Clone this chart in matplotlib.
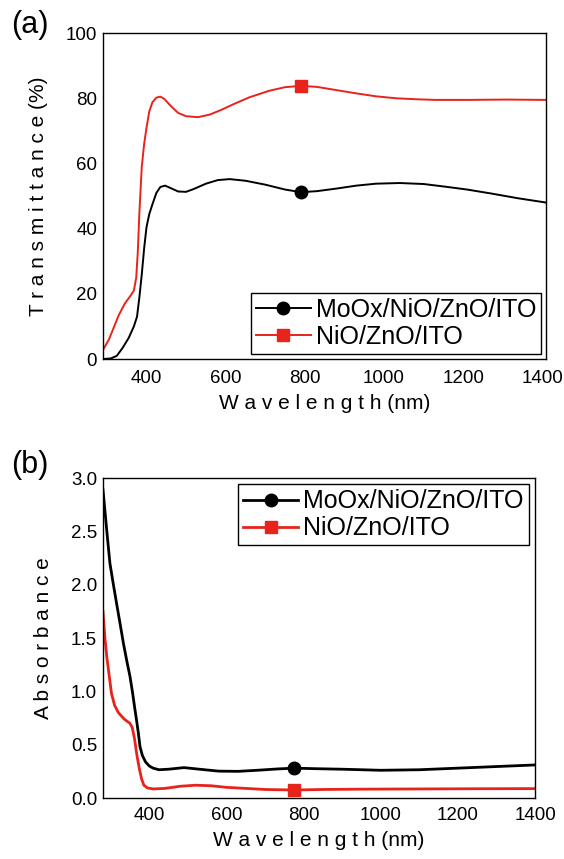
import numpy as np
import matplotlib
matplotlib.use("Agg")
import matplotlib.pyplot as plt

# ----------------------------
# Data
# ----------------------------
labels = ["MoOx/NiO/ZnO/ITO", "NiO/ZnO/ITO"]

# (a) transmittance, %
wl_t_moox = [290, 310, 325, 340, 355, 368, 376, 382, 388, 394, 400, 407, 415, 425,
             435, 447, 460, 480, 500, 520, 550, 580, 610, 650, 700, 750, 790, 830,
             880, 930, 980, 1040, 1100, 1160, 1210, 1270, 1340, 1410]
t_moox = [0, 0.2, 1, 3.5, 6.5, 10, 13, 19, 26, 34, 40.5, 44.5, 47.5, 51,
          52.8, 53.2, 52.5, 51.4, 51.3, 52.2, 53.8, 54.9, 55.2, 54.7, 53.5, 52, 51.2, 51.5,
          52.3, 53.2, 53.8, 54, 53.7, 52.8, 52, 50.8, 49.3, 48]

wl_t_nio = [290, 305, 315, 330, 345, 360, 368, 374, 378, 382, 388, 394, 400, 407, 415,
            425, 435, 445, 460, 480, 500, 530, 560, 590, 620, 660, 710, 750, 790,
            830, 880, 930, 980, 1030, 1080, 1130, 1210, 1310, 1410]
t_nio = [2.8, 6, 9, 13.5, 17, 19.5, 21, 25, 33, 45, 59, 66, 71, 76, 78.8,
         80.2, 80.5, 79.8, 77.8, 75.5, 74.5, 74.2, 75, 76.5, 78.2, 80.3, 82.3, 83.4, 83.8,
         83.5, 82.5, 81.5, 80.6, 80.0, 79.7, 79.5, 79.5, 79.6, 79.5]

# (b) absorbance
wl_a_moox = [280, 290, 298, 307, 315, 325, 333, 342, 350, 357, 362, 367, 372, 376,
             382, 390, 400, 410, 425, 450, 490, 530, 580, 630, 680, 730, 775, 830,
             900, 1000, 1100, 1200, 1300, 1400]
a_moox = [2.89, 2.5, 2.2, 2.0, 1.83, 1.62, 1.45, 1.28, 1.14, 0.98, 0.85, 0.73, 0.6, 0.48,
          0.4, 0.34, 0.3, 0.28, 0.265, 0.27, 0.285, 0.27, 0.252, 0.25, 0.26, 0.272, 0.28, 0.275,
          0.27, 0.26, 0.265, 0.28, 0.295, 0.31]

wl_a_nio = [280, 285, 290, 296, 302, 310, 320, 335, 350, 356, 362, 368, 374, 380,
            386, 395, 410, 440, 480, 520, 560, 600, 650, 700, 775, 850, 950, 1100,
            1250, 1400]
a_nio = [1.75, 1.5, 1.32, 1.15, 0.98, 0.87, 0.8, 0.74, 0.70, 0.66, 0.55, 0.4, 0.28, 0.18,
         0.12, 0.095, 0.085, 0.09, 0.11, 0.12, 0.115, 0.10, 0.09, 0.08, 0.075, 0.08, 0.083, 0.085,
         0.087, 0.088]

x_ticks = [400, 600, 800, 1000, 1200, 1400]
t_ticks = [0, 20, 40, 60, 80, 100]
a_ticks = [0.0, 0.5, 1.0, 1.5, 2.0, 2.5, 3.0]
marker_t = 790
marker_a = 775

# ----------------------------
# Style
# ----------------------------
plt.rcParams.update({
    "font.family": ["Liberation Sans", "DejaVu Sans"],
    "axes.linewidth": 1.0,
})
colors = {"moox": "black", "nio": "#e8231c"}


def mark_idx(x, target):
    return [int(np.argmin(np.abs(np.asarray(x) - target)))]


fig = plt.figure(figsize=(5.64, 8.59), dpi=100)
ax1 = fig.add_axes([0.1826, 0.582, 0.786, 0.3795])
ax2 = fig.add_axes([0.1826, 0.071, 0.766, 0.3725])

legend_kw = dict(fontsize=18, frameon=True, fancybox=False, edgecolor="black",
                 framealpha=1, handlelength=2.2, handletextpad=0.2,
                 labelspacing=0.12, borderpad=0.2)

# ----------------------------
# (a) Transmittance
# ----------------------------
ax1.plot(wl_t_moox, t_moox, color=colors["moox"], lw=1.4, marker="o", ms=9,
         markevery=mark_idx(wl_t_moox, marker_t), label=labels[0])
ax1.plot(wl_t_nio, t_nio, color=colors["nio"], lw=1.4, marker="s", ms=8,
         markevery=mark_idx(wl_t_nio, marker_t), label=labels[1])
ax1.set_xlim(290, 1410)
ax1.set_ylim(0, 100)
ax1.set_xticks(x_ticks)
ax1.set_yticks(t_ticks)
ax1.set_ylabel("T r a n s m i t t a n c e (%)", fontsize=15, labelpad=13)
ax1.set_xlabel("W a v e l e n g t h (nm)", fontsize=15, labelpad=5)
ax1.legend(loc="lower right", borderaxespad=0.2, **legend_kw)

# ----------------------------
# (b) Absorbance
# ----------------------------
ax2.plot(wl_a_moox, a_moox, color=colors["moox"], lw=2.0, marker="o", ms=9,
         markevery=mark_idx(wl_a_moox, marker_a), label=labels[0])
ax2.plot(wl_a_nio, a_nio, color=colors["nio"], lw=2.0, marker="s", ms=8,
         markevery=mark_idx(wl_a_nio, marker_a), label=labels[1])
ax2.set_xlim(280, 1400)
ax2.set_ylim(0, 3.0)
ax2.set_xticks(x_ticks)
ax2.set_yticks(a_ticks)
ax2.set_yticklabels([f"{v:.1f}" for v in a_ticks])
ax2.set_ylabel("A b s o r b a n c e", fontsize=15, labelpad=13)
ax2.set_xlabel("W a v e l e n g t h (nm)", fontsize=15, labelpad=5)
ax2.legend(loc="upper right", borderaxespad=0.25, **legend_kw)

for ax, xpad in ((ax1, 8.0), (ax2, 6.5)):
    ax.tick_params(axis="x", length=0, pad=xpad, labelsize=13.5)
    ax.tick_params(axis="y", length=0, pad=4.3, labelsize=13.5)

fig.text(0.019, 0.9534, "(a)", fontsize=22, ha="left", va="bottom")
fig.text(0.019, 0.4412, "(b)", fontsize=22, ha="left", va="bottom")

fig.savefig("out.png", dpi=100)
